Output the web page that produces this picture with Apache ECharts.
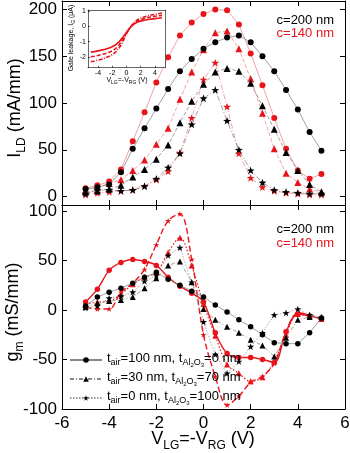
<!DOCTYPE html>
<html>
<head>
<meta charset="utf-8">
<script src="https://cdn.jsdelivr.net/npm/echarts@6/dist/echarts.min.js"></script>
<style>
html, body { margin: 0; padding: 0; background: #fff; }
#chart { width: 350px; height: 453px; }
</style>
</head>
<body>
<div id="chart"></div>
<script>
// gate voltage steps (V)
var vg = [-5, -4.5, -4, -3.5, -3, -2.5, -2, -1.5, -1, -0.5, 0, 0.5, 1, 1.5, 2, 2.5, 3, 3.5, 4, 4.5, 5];

// drain current I_LD (mA/mm)
var idBlackCircle = [8, 10, 13, 26, 51, 73, 94, 115, 134, 147, 158, 165, 170, 172, 165, 150, 134, 114, 93, 69, 49];
var idRedCircle = [9, 12, 16, 29, 59, 90, 122, 149, 172, 186, 195, 200, 199, 184, 153, 119, 84, 51, 28, 19, 24];
var idBlackTri = [5, 6, 8, 12, 21, 29, 40, 55, 79, 102, 120, 133, 137, 134, 121, 97, 72, 47, 28, 13, 5];
var idRedTri = [7, 10, 14, 18, 28, 39, 56, 73, 104, 133, 157, 175, 177, 158, 126, 89, 51, 25, 15, 8, 5];
var idBlackStar = [3, 7, 7, 6, 7, 11, 19, 31, 46, 77, 105, 114, 81, 50, 28, 15, 7, 5, 4, 3, 3];
var idRedStar = [2, 4, 5, 6, 7, 11, 18, 27, 47, 84, 125, 143, 96, 46, 20, 10, 6, 4, 3, 2, 2];

// transconductance g_m (mS/mm)
var gmBlackCircle = [4, 13, 18, 22, 27, 33, 38, 31, 25, 19, 13, 5, -2, -10, -17, -25, -33, -34, -34, -23, -8];
var gmRedCircle = [8, 21, 40, 48, 51, 49, 45, 33, 24, 17, 8, -23, -44, -48, -48, -50, -53, -22, -4, -6, -9];
var gmBlackTri = [3, 7, 9, 10, 13, 22, 32, 45, 49, 28, 1, -10, -17, -23, -30, -36, -47, -28, -10, -7, -7];
var gmRedTri = [6, 8, 9, 16, 26, 33, 38, 58, 73, 45, 6, -26, -55, -64, -72, -68, -52, -25, -4, -6, -9];
var gmBlackStar = [2, 4, 12, 14, 18, 29, 35, 55, 63, 28, -12, -45, -64, -52, -37, -23, -5, -3, 1, -5, -8];
var gmRedStar = [3, 1, 1, 18, 27, 41, 66, 90, 97, 51, -25, -67, -96, -87, -73, -67, -54, -22, -3, -5, -9];

// inset: gate leakage (uA)
var igA = [-1.68, -1.65, -1.6, -1.55, -1.5, -1.43, -1.33, -1.2, -1.0, -0.72, -0.4, -0.1, 0.12, 0.25, 0.33, 0.39, 0.43, 0.46, 0.49, 0.52, 0.55];
var igB = [-1.98, -1.95, -1.9, -1.84, -1.78, -1.7, -1.6, -1.45, -1.2, -0.85, -0.45, -0.1, 0.15, 0.32, 0.43, 0.5, 0.56, 0.6, 0.64, 0.67, 0.7];
var igC = [-2.3, -2.26, -2.2, -2.14, -2.06, -1.97, -1.85, -1.67, -1.4, -1.0, -0.5, -0.1, 0.2, 0.4, 0.52, 0.6, 0.67, 0.72, 0.77, 0.81, 0.85];

var idTicks = [0, 50, 100, 150, 200];
var gmTicks = [-100, -50, 0, 50, 100];
var igTicks = [-2, -1, 0, 1];
var legendNames = ['t100', 't30', 't0'];

var RED = '#e8141c';
var STAR = 'path://M0,-10L2.35,-3.24L9.51,-3.09L3.8,1.24L5.88,8.09L0,4L-5.88,8.09L-3.8,1.24L-9.51,-3.09L-2.35,-3.24Z';
var FONT = 'Liberation Sans, Arial, sans-serif';

function pairs(ys) {
  var out = [];
  for (var i = 0; i < vg.length; i++) out.push([vg[i], ys[i]]);
  return out;
}

function frameAxis(opt) {
  var a = {
    type: 'value',
    axisLine: { show: true, onZero: false, lineStyle: { color: '#000', width: 1 } },
    axisTick: { show: true, inside: true, length: 5, lineStyle: { color: '#000' } },
    axisLabel: { show: false, color: '#000', fontFamily: FONT, fontSize: 17 },
    splitLine: { show: false }
  };
  for (var k in opt) a[k] = opt[k];
  return a;
}

function mark(name, ys, xi, yi, symbol, size, color, lineColor, width, type, smooth) {
  return {
    name: name,
    type: 'line',
    xAxisIndex: xi,
    yAxisIndex: yi,
    data: pairs(ys),
    symbol: symbol,
    symbolSize: size,
    symbolKeepAspect: true,
    smooth: smooth || false,
    itemStyle: { color: color },
    lineStyle: { color: lineColor, width: width, type: type },
    silent: true,
    animation: false,
    z: color === RED ? 3 : 4
  };
}

var chart = echarts.init(document.getElementById('chart'), null, { renderer: 'canvas' });

var subRich = {
  n: { fontSize: 18, fontFamily: FONT, color: '#000', verticalAlign: 'bottom', padding: [0, 0, 4, 0] },
  s: { fontSize: 12, fontFamily: FONT, color: '#000', verticalAlign: 'bottom' }
};
var smallRich = {
  n: { fontSize: 7, fontFamily: FONT, color: '#000', verticalAlign: 'bottom', padding: [0, 0, 1.5, 0] },
  s: { fontSize: 5, fontFamily: FONT, color: '#000', verticalAlign: 'bottom' }
};

var legendText = {
  t100: '{n|t}{s|air}{n|=100 nm, t}{s|Al}{ss|2}{s|O}{ss|3}{n|=0 nm}',
  t30: '{n|t}{s|air}{n|=30 nm, t}{s|Al}{ss|2}{s|O}{ss|3}{n|=70 nm}',
  t0: '{n|t}{s|air}{n|=0 nm, t}{s|Al}{ss|2}{s|O}{ss|3}{n|=100 nm}'
};

var option = {
  animation: false,
  backgroundColor: '#fff',
  grid: [
    { left: 62, top: 1, width: 283, height: 204, containLabel: false, outerBoundsMode: 'none' },
    { left: 62, top: 205, width: 283, height: 204, containLabel: false, outerBoundsMode: 'none' },
    { left: 88, top: 10, width: 77.5, height: 57.7, containLabel: false, outerBoundsMode: 'none',
      show: true, backgroundColor: '#fff', borderWidth: 0, z: 5 }
  ],
  xAxis: [
    frameAxis({ gridIndex: 0, min: -6, max: 6, interval: 2, position: 'bottom' }),
    frameAxis({ gridIndex: 0, min: -6, max: 6, interval: 2, position: 'top' }),
    frameAxis({ gridIndex: 1, min: -6, max: 6, interval: 2, position: 'bottom',
      axisLabel: { show: true, color: '#000', fontFamily: FONT, fontSize: 17, margin: 6, showMinLabel: true, showMaxLabel: true } }),
    frameAxis({ gridIndex: 1, min: -6, max: 6, interval: 2, position: 'top' }),
    frameAxis({ gridIndex: 2, min: -5.4, max: 5.5, position: 'bottom', z: 6,
      axisTick: { show: true, inside: true, length: 2, customValues: [-4, -2, 0, 2, 4], lineStyle: { color: '#000', width: 0.6 } },
      axisLine: { show: true, onZero: false, lineStyle: { color: '#000', width: 0.6 } },
      axisLabel: { show: true, color: '#000', fontFamily: FONT, fontSize: 7, margin: 2, customValues: [-4, -2, 0, 2, 4] } }),
    frameAxis({ gridIndex: 2, min: -5.4, max: 5.5, position: 'top', z: 6,
      axisTick: { show: false },
      axisLine: { show: true, onZero: false, lineStyle: { color: '#000', width: 0.6 } } })
  ],
  yAxis: [
    frameAxis({ gridIndex: 0, min: -9, max: 209, position: 'left',
      axisTick: { show: true, inside: true, length: 5, customValues: idTicks, lineStyle: { color: '#000' } },
      axisLabel: { show: true, color: '#000', fontFamily: FONT, fontSize: 17, margin: 5, customValues: idTicks } }),
    frameAxis({ gridIndex: 0, min: -9, max: 209, position: 'right',
      axisTick: { show: true, inside: true, length: 5, customValues: idTicks, lineStyle: { color: '#000' } } }),
    frameAxis({ gridIndex: 1, min: -100, max: 106, position: 'left',
      axisTick: { show: true, inside: true, length: 5, customValues: gmTicks, lineStyle: { color: '#000' } },
      axisLabel: { show: true, color: '#000', fontFamily: FONT, fontSize: 17, margin: 5, customValues: gmTicks } }),
    frameAxis({ gridIndex: 1, min: -100, max: 106, position: 'right',
      axisTick: { show: true, inside: true, length: 5, customValues: gmTicks, lineStyle: { color: '#000' } } }),
    frameAxis({ gridIndex: 2, min: -2.69, max: 1.05, position: 'left', z: 6,
      axisTick: { show: true, inside: true, length: 2, customValues: igTicks, lineStyle: { color: '#000', width: 0.6 } },
      axisLine: { show: true, onZero: false, lineStyle: { color: '#000', width: 0.6 } },
      axisLabel: { show: true, color: '#000', fontFamily: FONT, fontSize: 7, margin: 2, customValues: igTicks } }),
    frameAxis({ gridIndex: 2, min: -2.69, max: 1.05, position: 'right', z: 6,
      axisTick: { show: false },
      axisLine: { show: true, onZero: false, lineStyle: { color: '#000', width: 0.6 } } })
  ],
  legend: {
    data: legendNames,
    orient: 'vertical',
    left: 64,
    top: 347,
    itemWidth: 32,
    itemHeight: 7,
    itemGap: 3,
    selectedMode: false,
    formatter: function (name) { return legendText[name]; },
    textStyle: {
      color: '#000',
      rich: {
        n: { fontSize: 13, fontFamily: FONT, color: '#000', verticalAlign: 'bottom', padding: [0, 0, 3, 0] },
        s: { fontSize: 9, fontFamily: FONT, color: '#000', verticalAlign: 'bottom', padding: [0, 0, 1, 0] },
        ss: { fontSize: 6, fontFamily: FONT, color: '#000', verticalAlign: 'bottom' }
      }
    }
  },
  series: [
    // top panel: I_LD
    mark('c200a', idBlackCircle, 0, 0, 'circle', 6, '#000', '#888', 0.8, 'solid'),
    mark('c140a', idRedCircle, 0, 0, 'circle', 6, RED, '#f08a8a', 0.8, 'solid'),
    mark('c200b', idBlackTri, 0, 0, 'triangle', 7, '#000', '#888', 0.8, [4, 2]),
    mark('c140b', idRedTri, 0, 0, 'triangle', 7, RED, '#f08a8a', 0.8, [4, 2]),
    mark('c200c', idBlackStar, 0, 0, STAR, 8, '#000', '#888', 0.8, [5, 2, 1, 2]),
    mark('c140c', idRedStar, 0, 0, STAR, 8, RED, '#f08a8a', 0.8, [5, 2, 1, 2]),
    // bottom panel: g_m
    mark('t100', gmBlackCircle, 2, 2, 'circle', 5.5, '#000', '#888', 0.8, 'solid'),
    mark('c140d', gmRedCircle, 2, 2, 'circle', 5.5, RED, RED, 1.4, 'solid', 0.35),
    mark('t30', gmBlackTri, 2, 2, 'triangle', 6, '#000', '#888', 0.8, [4, 2, 1, 2]),
    mark('c140e', gmRedTri, 2, 2, 'triangle', 6, RED, RED, 1.2, [1.5, 2], 0.35),
    mark('t0', gmBlackStar, 2, 2, STAR, 7, '#000', '#999', 0.8, [1.5, 1.5]),
    mark('c140f', gmRedStar, 2, 2, STAR, 6, RED, RED, 1.4, [6, 3], 0.35),
    // inset: gate leakage
    { type: 'line', xAxisIndex: 4, yAxisIndex: 4, data: pairs(igA), showSymbol: false, symbol: 'none',
      lineStyle: { color: RED, width: 1.6 }, z: 7, silent: true },
    { type: 'line', xAxisIndex: 4, yAxisIndex: 4, data: pairs(igB), showSymbol: false, symbol: 'none',
      lineStyle: { color: RED, width: 1.6, type: [4, 2] }, z: 7, silent: true },
    { type: 'line', xAxisIndex: 4, yAxisIndex: 4, data: pairs(igC), showSymbol: false, symbol: 'none',
      lineStyle: { color: RED, width: 1.6, type: [4, 1.5, 1, 1.5] }, z: 7, silent: true }
  ],
  graphic: [
    { type: 'text', x: 334, y: 20, z: 10, style: { text: 'c=200 nm', fill: '#000', font: '13px ' + FONT, align: 'right', verticalAlign: 'middle' } },
    { type: 'text', x: 334, y: 33, z: 10, style: { text: 'c=140 nm', fill: RED, font: '13px ' + FONT, align: 'right', verticalAlign: 'middle' } },
    { type: 'text', x: 334, y: 229, z: 10, style: { text: 'c=200 nm', fill: '#000', font: '13px ' + FONT, align: 'right', verticalAlign: 'middle' } },
    { type: 'text', x: 334, y: 243, z: 10, style: { text: 'c=140 nm', fill: RED, font: '13px ' + FONT, align: 'right', verticalAlign: 'middle' } },
    { type: 'text', x: 203, y: 441, z: 10,
      style: { text: '{n|V}{s|LG}{n|=-V}{s|RG}{n| (V)}', rich: subRich, align: 'center', verticalAlign: 'middle' } },
    { type: 'text', x: 17, y: 108, rotation: Math.PI / 2, z: 10,
      style: { text: '{n|I}{s|LD}{n| (mA/mm)}', rich: subRich, align: 'center', verticalAlign: 'middle' } },
    { type: 'text', x: 15, y: 312, rotation: Math.PI / 2, z: 10,
      style: { text: '{n|g}{s|m}{n| (mS/mm)}', rich: subRich, align: 'center', verticalAlign: 'middle' } },
    { type: 'text', x: 127, y: 81, z: 10,
      style: { text: '{n|V}{s|LG}{n|=-V}{s|RG}{n| (V)}', rich: smallRich, align: 'center', verticalAlign: 'middle' } },
    { type: 'text', x: 72, y: 38, rotation: Math.PI / 2, z: 10,
      style: { text: '{n|Gate leakage, I}{s|G}{n| (\u03bcA)}', rich: smallRich, align: 'center', verticalAlign: 'middle' } }
  ]
};

chart.setOption(option);
</script>
</body>
</html>
